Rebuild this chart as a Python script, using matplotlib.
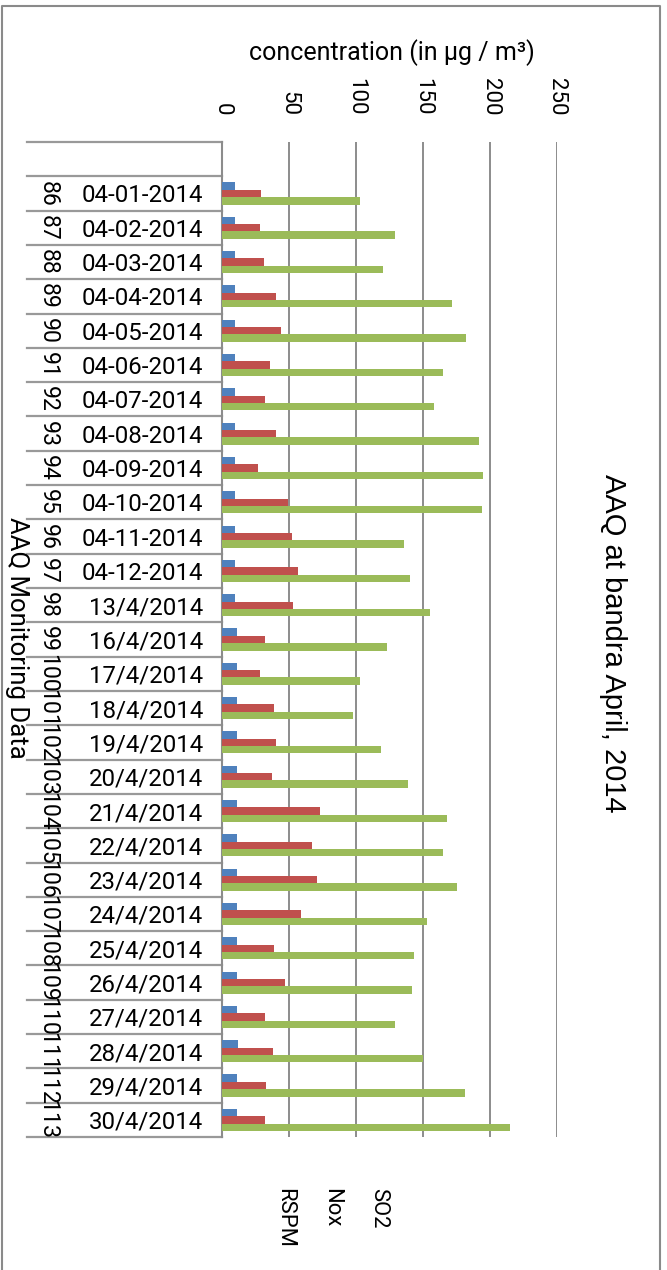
import numpy as np
import matplotlib.pyplot as plt
from matplotlib.lines import Line2D

plt.rcParams['font.family'] = ['Roboto', 'DejaVu Sans']

dates = ['04-01-2014', '04-02-2014', '04-03-2014', '04-04-2014', '04-05-2014',
         '04-06-2014', '04-07-2014', '04-08-2014', '04-09-2014', '04-10-2014',
         '04-11-2014', '04-12-2014', '13/4/2014', '16/4/2014', '17/4/2014',
         '18/4/2014', '19/4/2014', '20/4/2014', '21/4/2014', '22/4/2014',
         '23/4/2014', '24/4/2014', '25/4/2014', '26/4/2014', '27/4/2014',
         '28/4/2014', '29/4/2014', '30/4/2014']
row_ids = [86, 87, 88, 89, 90, 91, 92, 93, 94, 95, 96, 97, 98, 99, 100,
           101, 102, 103, 104, 105, 106, 107, 108, 109, 110, 111, 112, 113]
so2 = [10, 10, 10, 10, 10, 10, 10, 10, 10, 10, 10, 10, 10, 11, 11,
       11, 11, 11, 11, 11, 11, 11, 11, 11, 11, 12, 11, 11]
nox = [29, 28, 31, 40, 44, 36, 32, 40, 27, 49, 52, 57, 53, 32, 28,
       39, 40, 37, 73, 67, 71, 59, 39, 47, 32, 38, 33, 32]
rspm = [103, 129, 120, 172, 182, 165, 158, 192, 195, 194, 136, 140, 155, 123, 103,
        98, 119, 139, 168, 165, 175, 153, 143, 142, 129, 150, 181, 215]
series_names = ['RSPM', 'Nox', 'SO2']
title = 'AAQ at bandra April, 2014'

W, H = 667, 1270
fig = plt.figure(figsize=(W / 100, H / 100), dpi=100)
fig.patch.set_facecolor('white')

def fx(px):
    return px / W

def fy(py):
    return 1 - py / H

ax = fig.add_axes([fx(222), fy(1137), fx(557) - fx(222), (1137 - 142) / H])

n = len(dates)
y = np.arange(1, n + 1)
h = 0.215
ax.barh(y - h, so2, height=h, color='#4F81BD', zorder=3)
ax.barh(y, nox, height=h, color='#C0504D', zorder=3)
ax.barh(y + h, rspm, height=h, color='#9BBB59', zorder=3)

ax.set_xlim(0, 250)
ax.set_ylim(n + 0.5, -0.5)
ax.set_xticks(np.arange(0, 251, 50))
ax.xaxis.tick_top()
ax.tick_params(axis='x', length=0, pad=19, labelsize=16, labelrotation=-90)
ax.grid(axis='x', color='#8c8c8c', lw=1.4, zorder=0)
ax.set_axisbelow(True)
for s in ['top', 'right', 'bottom']:
    ax.spines[s].set_visible(False)
ax.spines['left'].set_color('#8c8c8c')
ax.spines['left'].set_linewidth(1.5)

ax.set_yticks(y)
ax.set_yticklabels(dates, fontsize=17.3)
ax.tick_params(axis='y', length=0, pad=13.5)

# category boxes on the left
tr = ax.get_yaxis_transform()
xl = (27 - 222) / 335
for b in np.arange(-0.5, n + 1):
    ax.plot([xl, 0], [b, b], transform=tr, color='#999999', lw=1.6, clip_on=False)
for yy, rid in zip(y, row_ids):
    ax.text((48 - 222) / 335, yy, str(rid), transform=tr, rotation=-90,
            ha='center', va='center', fontsize=16.6)

fig.text(fx(392), fy(53), 'concentration (in µg / m³)', ha='center', va='center', fontsize=18)
fig.text(fx(613), fy(643), title, rotation=-90, ha='center', va='center',
         fontsize=21, family=['Liberation Sans', 'DejaVu Sans'])
fig.text(fx(17), fy(638), 'AAQ Monitoring Data', rotation=-90, ha='center', va='center', fontsize=18.5)

for xp, name in zip([285, 332, 379], series_names):
    fig.text(fx(xp), fy(1188), name, rotation=-90, ha='center', va='top', fontsize=15.8)

fig.add_artist(Line2D([fx(2), fx(2), fx(660), fx(660)], [0, fy(6), fy(6), 0],
                      transform=fig.transFigure, color='#8a8a8a', lw=1.5))

fig.savefig('out.png', dpi=100)
